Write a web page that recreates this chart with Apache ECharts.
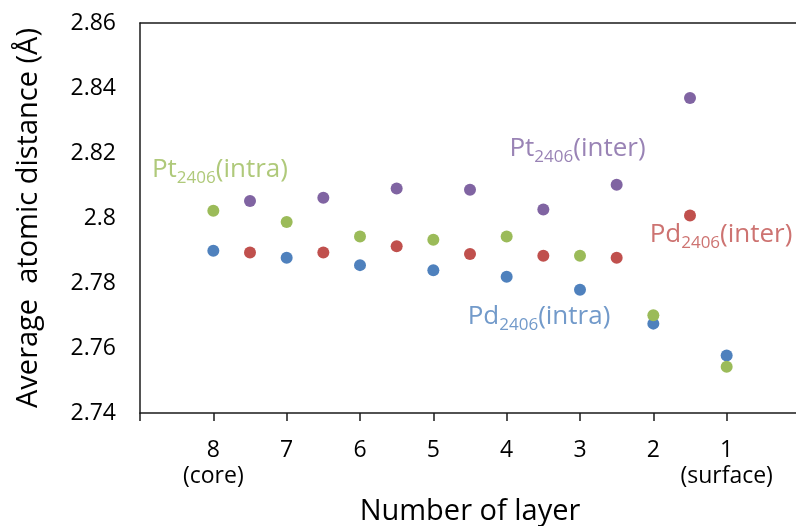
<!DOCTYPE html>
<html>
<head>
<meta charset="utf-8">
<script src="https://cdn.jsdelivr.net/npm/echarts@6/dist/echarts.min.js"></script>
<style>
  html, body { margin: 0; padding: 0; background: #fff; overflow: hidden; }
  #chart { width: 796px; height: 526px; }
</style>
</head>
<body>
<div id="chart"></div>
<script>
// Layer positions (x) for intra-layer and inter-layer values
const intraLayers = [8, 7, 6, 5, 4, 3, 2, 1];
const interLayers = [7.5, 6.5, 5.5, 4.5, 3.5, 2.5, 1.5];

// Series values (Å)
const ptIntra = [2.8022, 2.7988, 2.7943, 2.7933, 2.7943, 2.7884, 2.7701, 2.7542];
const pdIntra = [2.7899, 2.7878, 2.7855, 2.7839, 2.7819, 2.7779, 2.7675, 2.7577];
const ptInter = [2.8052, 2.8062, 2.8091, 2.8087, 2.8026, 2.8102, 2.8369];
const pdInter = [2.7894, 2.7894, 2.7913, 2.7889, 2.7884, 2.7878, 2.8008];

// Y tick labels
const yTicks = ['2.74', '2.76', '2.78', '2.8', '2.82', '2.84', '2.86'];

// X tick label extras
const xTickNotes = { 8: '(core)', 1: '(surface)' };

// Annotation labels (position in data coordinates)
const annoNames = ['Pt', 'Pt', 'Pd', 'Pd'];
const annoSubs = ['2406', '2406', '2406', '2406'];
const annoTails = ['(intra)', '(inter)', '(inter)', '(intra)'];
const annoX = [7.91, 3.034, 1.077, 3.559];
const annoY = [2.8150, 2.8215, 2.7950, 2.7698];
const annoColors = ['#9BBB59', '#8064A2', '#C0504D', '#4F81BD'];

const FONT = 'Open Sans';

function pairs(xs, ys) { return xs.map((x, i) => [x, ys[i]]); }

const annoData = annoX.map((x, i) => ({
  value: [x, annoY[i]],
  label: {
    color: annoColors[i],
    formatter: '{m|' + annoNames[i] + '}{s|' + annoSubs[i] + '}{m|' + annoTails[i] + '}'
  }
}));

const chart = echarts.init(document.getElementById('chart'), null, { renderer: 'canvas' });
chart.setOption({
  animation: false,
  backgroundColor: '#ffffff',
  textStyle: { fontFamily: FONT },
  grid: {
    left: 140, top: 23, right: -4, bottom: 113,
    show: false,
    outerBoundsMode: 'none'
  },
  xAxis: [{
    type: 'value',
    min: 0, max: 9, interval: 1,
    inverse: true,
    position: 'bottom',
    name: 'Number of layer',
    nameLocation: 'middle',
    nameGap: 84,
    nameTextStyle: { fontSize: 29, color: '#000', fontFamily: FONT },
    axisLine: { show: true, onZero: false, lineStyle: { color: '#1a1a1a', width: 1.5 } },
    axisTick: { show: true, inside: false, length: 8, lineStyle: { color: '#1a1a1a', width: 1.5 } },
    axisLabel: {
      margin: 24,
      fontSize: 23,
      lineHeight: 26,
      color: '#000',
      fontFamily: FONT,
      formatter: function (v) {
        if (v <= 0 || v >= 9) return '';
        return xTickNotes[v] ? v + '\n' + xTickNotes[v] : String(v);
      }
    },
    splitLine: { show: false }
  }, {
    type: 'value',
    min: 0, max: 9,
    inverse: true,
    position: 'top',
    axisLine: { show: true, onZero: false, lineStyle: { color: '#1a1a1a', width: 1.5 } },
    axisTick: { show: false },
    axisLabel: { show: false },
    splitLine: { show: false }
  }],
  yAxis: {
    type: 'value',
    min: 2.74, max: 2.86, interval: 0.02,
    position: 'left',
    name: 'Average  atomic distance (Å)',
    nameLocation: 'middle',
    nameGap: 97,
    nameTextStyle: { fontSize: 29, color: '#000', fontFamily: FONT },
    axisLine: { show: true, onZero: false, lineStyle: { color: '#1a1a1a', width: 1.5 } },
    axisTick: { show: false },
    axisLabel: {
      margin: 24,
      fontSize: 23,
      color: '#000',
      fontFamily: FONT,
      formatter: function (v) {
        const idx = Math.round((v - 2.74) / 0.02);
        return yTicks[idx] !== undefined ? yTicks[idx] : '';
      }
    },
    splitLine: { show: false }
  },
  series: [
    {
      name: 'Pt2406(intra)', type: 'scatter', symbolSize: 12,
      itemStyle: { color: '#9BBB59', opacity: 1 }, data: pairs(intraLayers, ptIntra), z: 3
    },
    {
      name: 'Pd2406(intra)', type: 'scatter', symbolSize: 12,
      itemStyle: { color: '#4F81BD', opacity: 1 }, data: pairs(intraLayers, pdIntra), z: 2
    },
    {
      name: 'Pt2406(inter)', type: 'scatter', symbolSize: 12,
      itemStyle: { color: '#8064A2', opacity: 1 }, data: pairs(interLayers, ptInter), z: 2
    },
    {
      name: 'Pd2406(inter)', type: 'scatter', symbolSize: 12,
      itemStyle: { color: '#C0504D', opacity: 1 }, data: pairs(interLayers, pdInter), z: 2
    },
    {
      name: 'annotations', type: 'scatter', symbolSize: 0, silent: true,
      z: 5,
      label: {
        show: true,
        position: 'inside',
        rich: {
          m: { fontSize: 26, fontFamily: FONT },
          s: { fontSize: 17, fontFamily: FONT, padding: [18, 0, 0, 0] }
        }
      },
      data: annoData
    }
  ]
});
</script>
</body>
</html>
